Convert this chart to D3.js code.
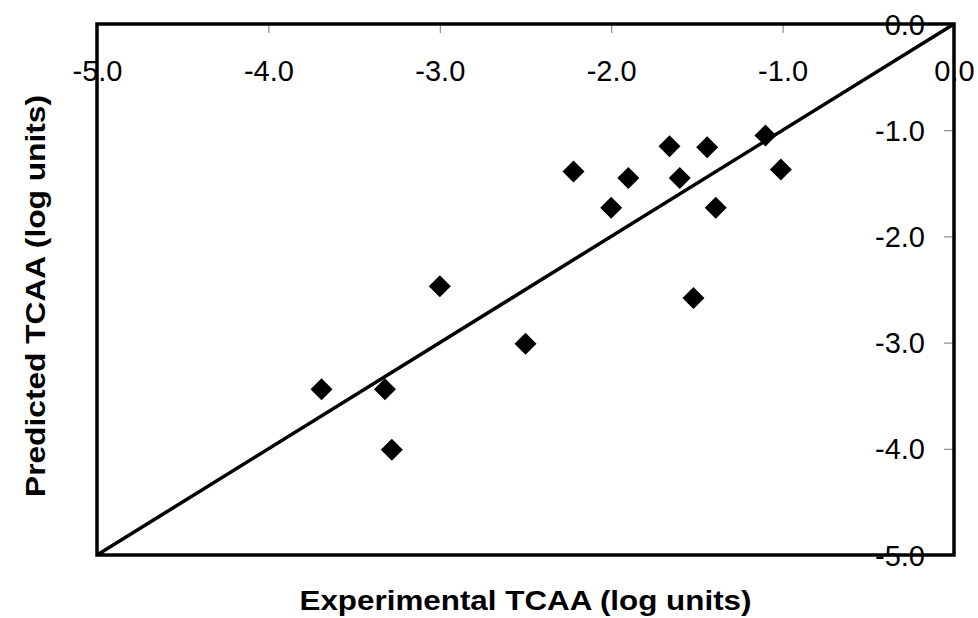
<!DOCTYPE html>
<html>
<head>
<meta charset="utf-8">
<script src="https://cdn.jsdelivr.net/npm/d3@7"></script>
<style>
  body { margin: 0; background: #fff; }
  svg text { font-family: "Liberation Sans", Arial, sans-serif; }
</style>
</head>
<body>
<div id="chart"></div>
<script>
const dims = { width: 978, height: 618, left: 97, right: 954, top: 24, bottom: 555 };

// experimental vs predicted TCAA (log units)
const experimental = [-3.69, -3.32, -3.28, -3.00, -2.50, -2.22, -2.00, -1.90, -1.66, -1.60, -1.52, -1.44, -1.39, -1.10, -1.01];
const predicted    = [-3.44, -3.44, -4.01, -2.47, -3.01, -1.39, -1.73, -1.45, -1.15, -1.45, -2.58, -1.16, -1.73, -1.05, -1.37];
const tickValues = [-5, -4, -3, -2, -1, 0];
const lineEnds = [-5, 0];

const points = experimental.map((d, i) => ({ x: d, y: predicted[i] }));
const fmt = d => d.toFixed(1);   // plain hyphen minus like the original

const x = d3.scaleLinear().domain([-5, 0]).range([dims.left, dims.right]);
const y = d3.scaleLinear().domain([-5, 0]).range([dims.bottom, dims.top]);

const svg = d3.select("#chart")
    .append("svg")
    .attr("width", dims.width)
    .attr("height", dims.height);

// x axis along the top, ticks pointing down into the plot
svg.append("g")
    .attr("transform", `translate(0,${dims.top})`)
    .call(d3.axisBottom(x).tickValues(tickValues).tickFormat(fmt).tickSize(9).tickSizeOuter(0))
    .call(g => g.select(".domain").remove())
    .call(g => g.selectAll(".tick line").attr("stroke", "#777"))
    .call(g => g.selectAll(".tick text")
        .attr("y", 47)
        .attr("dy", "0.35em")
        .attr("fill", "#000")
        .attr("font-size", 29));

// y axis along the right side, ticks pointing left into the plot
svg.append("g")
    .attr("transform", `translate(${dims.right},0)`)
    .call(d3.axisLeft(y).tickValues(tickValues).tickFormat(fmt).tickSize(10).tickPadding(19).tickSizeOuter(0))
    .call(g => g.select(".domain").remove())
    .call(g => g.selectAll(".tick line").attr("stroke", "#777"))
    .call(g => g.selectAll(".tick text")
        .attr("dy", "0.35em")
        .attr("fill", "#000")
        .attr("font-size", 29));

// frame
svg.append("rect")
    .attr("x", x(-5))
    .attr("y", y(0))
    .attr("width", x(0) - x(-5))
    .attr("height", y(-5) - y(0))
    .attr("fill", "none")
    .attr("stroke", "#000")
    .attr("stroke-width", 3.5);

// 1:1 line
svg.append("line")
    .attr("x1", x(lineEnds[0]))
    .attr("y1", y(lineEnds[0]))
    .attr("x2", x(lineEnds[1]))
    .attr("y2", y(lineEnds[1]))
    .attr("stroke", "#000")
    .attr("stroke-width", 3.5);

// diamonds
svg.append("g")
    .selectAll("path")
    .data(points)
    .join("path")
    .attr("transform", d => `translate(${x(d.x)},${y(d.y)})`)
    .attr("d", "M0,-11L11,0L0,11L-11,0Z")
    .attr("fill", "#000");

svg.append("text")
    .attr("x", (dims.left + dims.right) / 2)
    .attr("y", 610)
    .attr("text-anchor", "middle")
    .attr("font-size", 28)
    .attr("font-weight", "bold")
    .attr("textLength", 452)
    .attr("lengthAdjust", "spacingAndGlyphs")
    .text("Experimental TCAA (log units)");

svg.append("text")
    .attr("transform", `translate(45,296) rotate(-90)`)
    .attr("text-anchor", "middle")
    .attr("font-size", 28)
    .attr("font-weight", "bold")
    .attr("textLength", 402)
    .attr("lengthAdjust", "spacingAndGlyphs")
    .text("Predicted TCAA (log units)");
</script>
</body>
</html>
